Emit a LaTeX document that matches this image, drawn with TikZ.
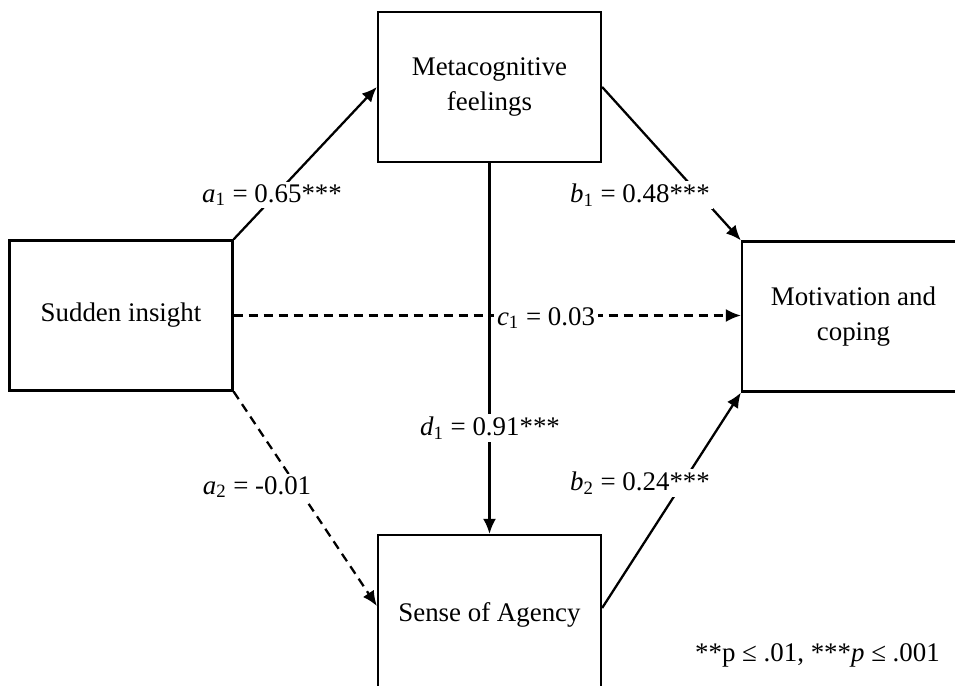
\documentclass[tikz,border=0pt]{standalone}
\usepackage{fontspec}
\setmainfont{Liberation Serif}
\usetikzlibrary{arrows.meta}

\begin{document}
\begin{tikzpicture}[
    font=\fontsize{15.3}{20}\selectfont,
    box/.style={draw, line width=1.3pt, minimum width=4.46cm, minimum height=3.0cm, inner sep=0pt, align=center},
    link/.style={line width=1.3pt, -{Latex[length=0.3cm,width=0.26cm]}},
    dlink/.style={link, dash pattern=on 0.18cm off 0.12cm},
    coef/.style={fill=white, inner sep=1.5pt}
  ]
  \useasboundingbox (0,0) rectangle (19.1,13.7);

  \node[box] (meta)   at (9.79,11.96) {Metacognitive\\feelings};
  \node[box] (sudden) at (2.42,7.39)  {Sudden insight};
  \node[box] (motiv)  at (17.07,7.37) {Motivation and\\coping};
  \node[box, minimum height=3.2cm] (sense) at (9.79,1.40) {Sense of Agency};

  \draw[link]  (sudden.north east) -- (meta.west);
  \draw[link]  (meta.east) -- (motiv.north west);
  \draw[dlink] (sudden.east) -- (sudden.east -| motiv.west);
  \draw[dlink] (sudden.south east) -- ([yshift=0.18cm]sense.west);
  \draw[link]  ([yshift=0.14cm]sense.east) -- (motiv.south west);
  \draw[link]  (meta.south) -- (sense.north);

  \node[coef] (la1) at (5.44,9.80)  {\textit{a}\textsubscript{1} = 0.65***};
  \node[coef] (lb1) at (12.80,9.80) {\textit{b}\textsubscript{1} = 0.48***};
  \node[coef] (lc1) at (10.92,7.34) {\textit{c}\textsubscript{1} = 0.03};
  \node[coef] (ld1) at (9.80,5.14)  {\textit{d}\textsubscript{1} = 0.91***};
  \node[coef] (la2) at (5.14,3.96)  {\textit{a}\textsubscript{2} = -0.01};
  \node[coef] (lb2) at (12.80,4.04) {\textit{b}\textsubscript{2} = 0.24***};

  \node[anchor=east] (note) at (18.92,0.60) {**p ≤ .01, ***\textit{p} ≤ .001};
\end{tikzpicture}
\end{document}
